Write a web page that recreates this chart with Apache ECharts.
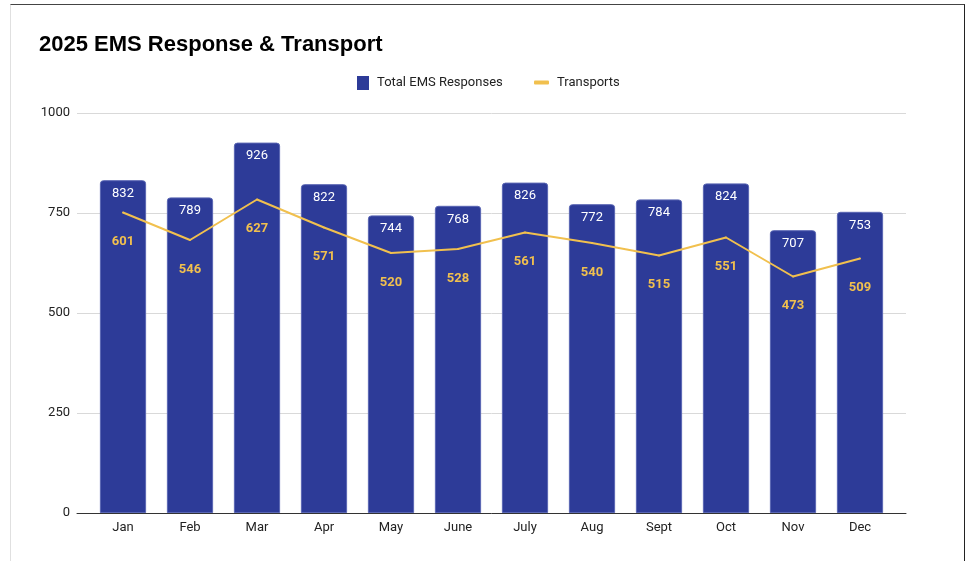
<!DOCTYPE html>
<html>
<head>
<meta charset="utf-8">
<script src="https://cdn.jsdelivr.net/npm/echarts@6/dist/echarts.min.js"></script>
<style>
  html, body { margin: 0; padding: 0; background: #fff; }
  #chart { position: absolute; left: 0; top: 0; width: 967px; height: 561px; }
  #frame {
    position: absolute; left: 10px; top: 4px; width: 953px; height: 560px;
    border-top: 1px solid #444; border-right: 1px solid #222; border-left: 1px solid #e0e0e0;
    pointer-events: none;
  }
</style>
</head>
<body>
<div id="chart"></div>
<div id="frame"></div>
<script>
// data
const months = ["Jan", "Feb", "Mar", "Apr", "May", "June", "July", "Aug", "Sept", "Oct", "Nov", "Dec"];
const responses = [832, 789, 926, 822, 744, 768, 826, 772, 784, 824, 707, 753];
const transports = [601, 546, 627, 571, 520, 528, 561, 540, 515, 551, 473, 509];
const leftTicks = [0, 250, 500, 750, 1000];

const barColor = "#2d3b98";
const lineColor = "#f1c04e";
const font = "Roboto, Arial, sans-serif";
const legendText = { fontFamily: font, fontSize: 13, color: "#222", padding: [0, 0, 0, 3] };

const chart = echarts.init(document.getElementById("chart"));

const option = {
  animation: false,
  title: {
    text: "2025 EMS Response & Transport",
    left: 34,
    top: 29,
    textStyle: { fontFamily: "Arial, 'Liberation Sans', sans-serif", fontSize: 22, fontWeight: "bold", color: "#000" }
  },
  legend: [
    {
      left: 352, top: 71,
      data: [{ name: "Total EMS Responses", icon: "rect", itemStyle: { color: barColor, borderWidth: 0, opacity: 1 } }],
      itemWidth: 12, itemHeight: 14,
      textStyle: legendText
    },
    {
      left: 529, top: 71,
      data: [{ name: "Transports", icon: "roundRect", itemStyle: { color: lineColor, borderWidth: 0, opacity: 1 } }],
      itemWidth: 15, itemHeight: 4,
      textStyle: legendText
    }
  ],
  // grid 0 draws the gridlines / axis; grid 1 holds the marks
  grid: [
    { left: 77, right: 61, top: 113, bottom: 48 },
    { left: 89.5, right: 73.5, top: 113, bottom: 48 }
  ],
  xAxis: [
    {
      type: "category", gridIndex: 0, data: months,
      axisLine: { show: true, lineStyle: { color: "#333", width: 1 } },
      axisTick: { show: false }, axisLabel: { show: false }
    },
    {
      type: "category", gridIndex: 1, data: months,
      axisLine: { show: false }, axisTick: { show: false },
      axisLabel: { fontFamily: font, fontSize: 13, color: "#222", margin: 8 }
    }
  ],
  yAxis: [
    {
      type: "value", gridIndex: 0, min: 0, max: 1000, interval: 250,
      axisLabel: { fontFamily: font, fontSize: 13, color: "#222", margin: 7,
        formatter: v => leftTicks.includes(v) ? String(v) : "" },
      splitLine: { lineStyle: { color: "#d9d9d9" } },
      axisLine: { show: false }, axisTick: { show: false }
    },
    { type: "value", gridIndex: 1, min: 0, max: 1000, show: false },
    { type: "value", gridIndex: 1, min: 0, max: 800, show: false }
  ],
  series: [
    {
      name: "Total EMS Responses", type: "bar",
      xAxisIndex: 1, yAxisIndex: 1,
      data: responses,
      barCategoryGap: "31%",
      itemStyle: { color: barColor, borderColor: "#5966b3", borderWidth: 1, borderRadius: [3, 3, 0, 0] },
      label: { show: true, position: "insideTop", distance: 7, color: "#fff", fontFamily: font, fontSize: 13 }
    },
    {
      name: "Transports", type: "line",
      xAxisIndex: 1, yAxisIndex: 2,
      data: transports,
      symbol: "circle", symbolSize: 2, showSymbol: true,
      lineStyle: { color: lineColor, width: 2 },
      itemStyle: { color: lineColor, borderWidth: 0 },
      label: { show: true, position: "bottom", distance: 22, color: lineColor, fontFamily: font, fontSize: 13, fontWeight: "bold" },
      labelLayout: { hideOverlap: false },
      z: 5
    }
  ]
};

chart.setOption(option);
</script>
</body>
</html>
